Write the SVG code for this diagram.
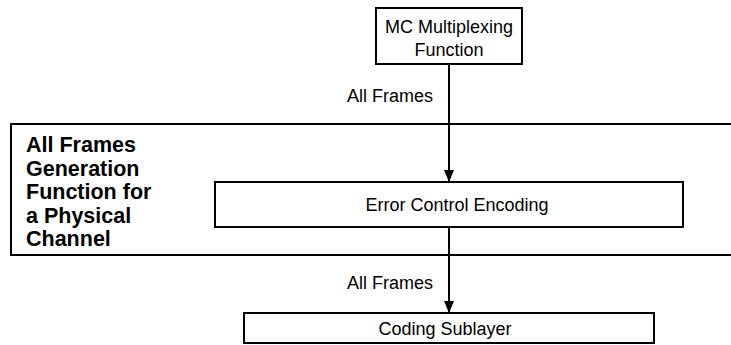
<svg xmlns="http://www.w3.org/2000/svg" width="731" height="345" viewBox="0 0 731 345">
<style>
.box{fill:#fff;stroke:#000;stroke-width:2}
.t{font-family:"Liberation Sans",Arial,sans-serif;font-size:18px;fill:#000;text-anchor:middle}
.b{font-family:"Liberation Sans",Arial,sans-serif;font-size:21.5px;font-weight:bold;fill:#000}
.ln{stroke:#000;stroke-width:2;fill:none}
</style>
<defs>
<marker id="ah" markerWidth="10" markerHeight="12" refX="5" refY="12" orient="auto-start-reverse" markerUnits="userSpaceOnUse" viewBox="0 0 10 12">
<path d="M0,0 L10,0 L5,12 Z" fill="#000"/>
</marker>
</defs>
<rect width="731" height="345" fill="#fff"/>
<g id="group-frame">
<path class="ln" d="M740,124 H11 V255 H740"/>
<text class="b" x="26" y="152">All Frames</text>
<text class="b" x="26" y="175.5">Generation</text>
<text class="b" x="26" y="199">Function for</text>
<text class="b" x="26" y="222.5">a Physical</text>
<text class="b" x="26" y="246">Channel</text>
</g>
<g id="mc">
<rect class="box" x="376" y="8" width="146" height="56"/>
<text class="t" x="449" y="33">MC Multiplexing</text>
<text class="t" x="449" y="56">Function</text>
</g>
<g id="ece">
<rect class="box" x="215" y="182" width="468" height="45"/>
<text class="t" x="457" y="211">Error Control Encoding</text>
</g>
<g id="cs">
<rect class="box" x="244" y="313" width="410" height="30"/>
<text class="t" x="445" y="335">Coding Sublayer</text>
</g>
<g id="connectors">
<line class="ln" x1="449" y1="64" x2="449" y2="181" style="stroke-width:2"/>
<path d="M444,170 L454,170 L449,182 Z" fill="#000"/>
<text class="t" x="390" y="102">All Frames</text>
<line class="ln" x1="449" y1="227" x2="449" y2="312"/>
<path d="M444,301 L454,301 L449,313 Z" fill="#000"/>
<text class="t" x="390" y="289">All Frames</text>
</g>
</svg>
